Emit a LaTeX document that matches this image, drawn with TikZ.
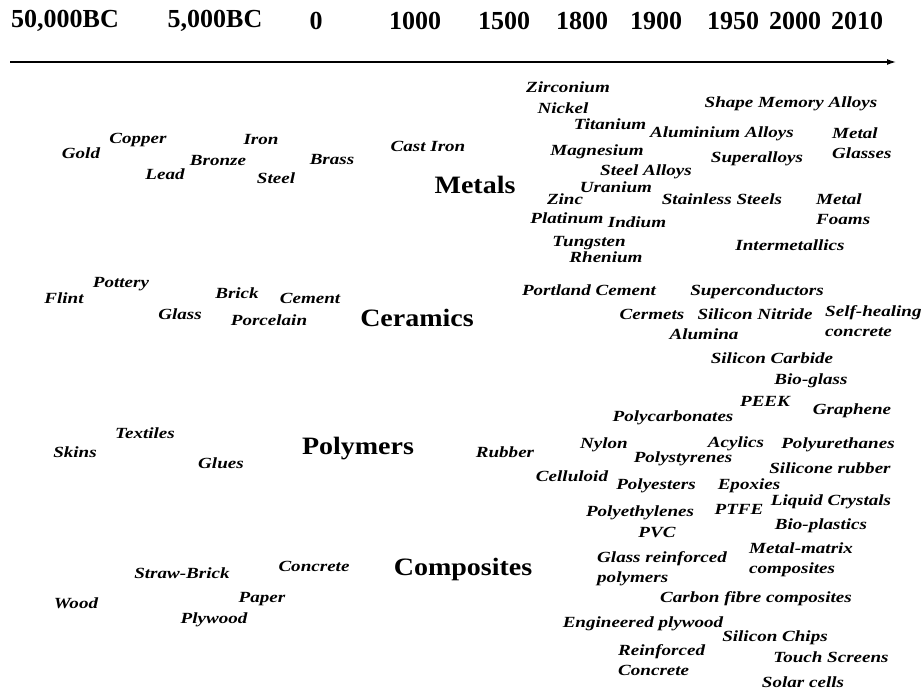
\documentclass[tikz,border=0pt]{standalone}
\usepackage{fontspec}
\setmainfont{Liberation Serif}
\newfontfamily\itemfont[FakeStretch=1.23]{Liberation Serif}
\newfontfamily\groupfont[FakeStretch=1.12]{Liberation Serif}
\usetikzlibrary{arrows.meta}

\begin{document}
\begin{tikzpicture}[
  >=Latex, x=1pt, y=-1pt,
  year/.style={font=\fontsize{26}{28}\selectfont\bfseries,inner sep=0pt},
  group/.style={font=\groupfont\fontsize{25}{28}\selectfont\bfseries,
    inner sep=0pt,text height=0.7em,text depth=0.22em,yshift=-3pt},
  item/.style={font=\itemfont\fontsize{15.5}{20}\selectfont\bfseries\itshape,
    inner sep=0pt,text height=1.5ex,text depth=.25ex,yshift=-3pt},
  stack/.style={font=\itemfont\fontsize{15.5}{20}\selectfont\bfseries\itshape,
    inner sep=0pt,align=left,anchor=west},
  axis/.style={->,line width=1.3pt,arrows={-Latex[length=9pt,width=6pt]}}]
\useasboundingbox (0,0) rectangle (923,691);
% time axis
\foreach \px/\yr [count=\i] in {65/{50,000BC},215/{5,000BC},316/0,415/1000,
    504/1500,582/1800,656/1900,733/1950,795/2000,857/2010}
  \node[year] (y\i) at (\px,21) {\yr};
\coordinate (axisstart) at (10,62);
\coordinate (axisend) at (896,62);
\draw[axis] (axisstart)--(axisend);
% groups
\node[group] (metals) at (475,188) {Metals};
\node[group] (ceramics) at (417,321) {Ceramics};
\node[group] (polymers) at (358,449) {Polymers};
\node[group] (composites) at (463,570) {Composites};
% metals
\node[item] (gold) at (81,153) {Gold};
\node[item] (copper) at (138,138) {Copper};
\node[item] (iron) at (261,139) {Iron};
\node[item] (bronze) at (218,160) {Bronze};
\node[item] (brass) at (332,159) {Brass};
\node[item] (lead) at (165,174) {Lead};
\node[item] (steel) at (276,178) {Steel};
\node[item] (castiron) at (428,146) {Cast Iron};
\node[item] (zirconium) at (568,87) {Zirconium};
\node[item] (nickel) at (563,108) {Nickel};
\node[item] (titanium) at (610,124) {Titanium};
\node[item] (aluminium) at (722,132) {Aluminium Alloys};
\node[item] (shapemem) at (791,102) {Shape Memory Alloys};
\node[stack] (metalglass) at (832,143) {Metal\\Glasses};
\node[item] (magnesium) at (597,150) {Magnesium};
\node[item] (superalloys) at (757,157) {Superalloys};
\node[item] (steelalloys) at (646,170) {Steel Alloys};
\node[item] (uranium) at (616,187) {Uranium};
\node[item] (zinc) at (565,199) {Zinc};
\node[item] (stainless) at (722,199) {Stainless Steels};
\node[stack] (metalfoam) at (816,209) {Metal\\Foams};
\node[item] (platinum) at (567,218) {Platinum};
\node[item] (indium) at (637,222) {Indium};
\node[item] (tungsten) at (589,241) {Tungsten};
\node[item] (rhenium) at (606,257) {Rhenium};
\node[item] (intermetallics) at (790,245) {Intermetallics};
% ceramics
\node[item] (pottery) at (121,282) {Pottery};
\node[item] (flint) at (64,298) {Flint};
\node[item] (glass) at (180,314) {Glass};
\node[item] (brick) at (237,293) {Brick};
\node[item] (cement) at (310,298) {Cement};
\node[item] (porcelain) at (269,320) {Porcelain};
\node[item] (portland) at (589,290) {Portland Cement};
\node[item] (supercond) at (757,290) {Superconductors};
\node[item] (cermets) at (652,314) {Cermets};
\node[item] (sinitride) at (755,314) {Silicon Nitride};
\node[stack] (selfheal) at (825,321) {Self-healing\\concrete};
\node[item] (alumina) at (704,334) {Alumina};
\node[item] (sicarbide) at (772,358) {Silicon Carbide};
\node[item] (bioglass) at (811,379) {Bio-glass};
\node[item] (peek) at (765,401) {PEEK};
\node[item] (graphene) at (852,409) {Graphene};
% polymers
\node[item] (textiles) at (145,433) {Textiles};
\node[item] (skins) at (75,452) {Skins};
\node[item] (glues) at (221,463) {Glues};
\node[item] (rubber) at (505,452) {Rubber};
\node[item] (polycarb) at (673,416) {Polycarbonates};
\node[item] (nylon) at (604,443) {Nylon};
\node[item] (acylics) at (736,442) {Acylics};
\node[item] (polyureth) at (838,443) {Polyurethanes};
\node[item] (polystyr) at (683,457) {Polystyrenes};
\node[item] (siliconerub) at (830,468) {Silicone rubber};
\node[item] (celluloid) at (572,476) {Celluloid};
\node[item] (polyesters) at (656,484) {Polyesters};
\node[item] (epoxies) at (749,484) {Epoxies};
\node[item] (liquidcryst) at (831,500) {Liquid Crystals};
\node[item] (polyethyl) at (640,511) {Polyethylenes};
\node[item] (ptfe) at (739,509) {PTFE};
\node[item] (bioplast) at (821,524) {Bio-plastics};
\node[item] (pvc) at (657,532) {PVC};
% composites
\node[item] (strawbrick) at (182,573) {Straw-Brick};
\node[item] (concrete) at (314,566) {Concrete};
\node[item] (paper) at (262,597) {Paper};
\node[item] (wood) at (76,603) {Wood};
\node[item] (plywood) at (214,618) {Plywood};
\node[stack] (glassreinf) at (597,569) {Glass reinforced\\polymers};
\node[stack] (metalmatrix) at (749,560) {Metal-matrix\\composites};
\node[item] (carbonfibre) at (756,597) {Carbon fibre composites};
\node[item] (engplywood) at (643,622) {Engineered plywood};
\node[item] (sichips) at (775,636) {Silicon Chips};
\node[stack] (reinfconc) at (618,660) {Reinforced\\Concrete};
\node[item] (touch) at (831,657) {Touch Screens};
\node[item] (solar) at (803,682) {Solar cells};
\end{tikzpicture}
\end{document}
